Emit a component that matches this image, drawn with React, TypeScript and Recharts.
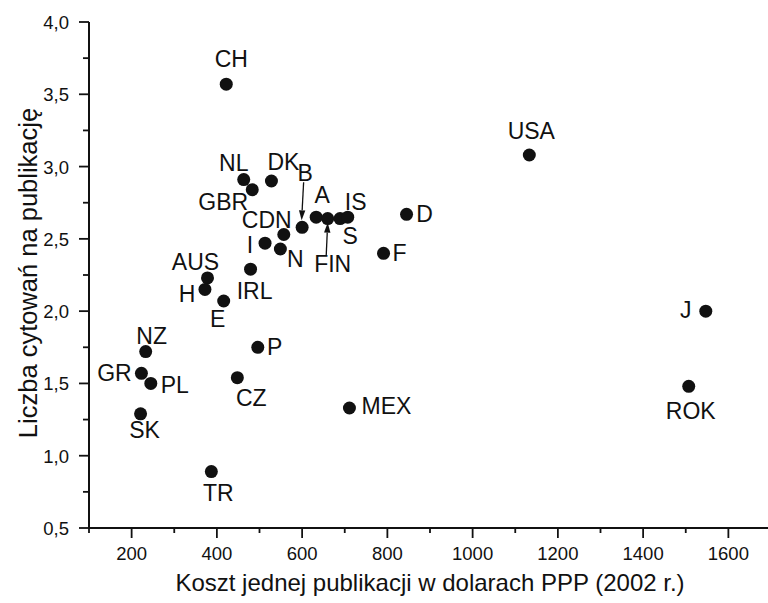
import { Scatter, ScatterChart, XAxis, YAxis } from "recharts";

const countries = [
  "CH", "NL", "GBR", "DK", "B", "CDN", "I", "N", "A", "FIN",
  "S", "IS", "D", "F", "AUS", "H", "E", "IRL", "NZ", "GR",
  "PL", "SK", "P", "CZ", "TR", "MEX", "USA", "J", "ROK",
];
const costPPP = [
  422, 463, 483, 528, 600, 557, 513, 549, 633, 660,
  689, 707, 845, 791, 378, 372, 416, 479, 233, 223,
  245, 221, 496, 448, 387, 711, 1133, 1547, 1507,
];
const citationsPerPaper = [
  3.57, 2.91, 2.84, 2.9, 2.58, 2.53, 2.47, 2.43, 2.65, 2.64,
  2.64, 2.65, 2.67, 2.4, 2.23, 2.15, 2.07, 2.29, 1.72, 1.57,
  1.5, 1.29, 1.75, 1.54, 0.89, 1.33, 3.08, 2.0, 1.48,
];

const xTicks = [100, 200, 300, 400, 500, 600, 700, 800, 900, 1000, 1100, 1200, 1300, 1400, 1500, 1600, 1700];
const xLabeled = [200, 400, 600, 800, 1000, 1200, 1400, 1600];
const yTicks = [0.5, 0.75, 1, 1.25, 1.5, 1.75, 2, 2.25, 2.5, 2.75, 3, 3.25, 3.5, 3.75, 4];
const yLabeled = [0.5, 1, 1.5, 2, 2.5, 3, 3.5, 4];

const xTitle = "Koszt jednej publikacji w dolarach PPP (2002 r.)";
const yTitle = "Liczba cytowań na publikację";

// where each country tag sits relative to its dot (px)
const tagOffset: Record<string, [number, number]> = {
  CH: [5, -25], NL: [-10, -17], GBR: [-29, 12], DK: [12, -19], B: [3, -54],
  CDN: [-17, -15], I: [-15, 2], N: [15, 10], A: [6, -22], FIN: [5, 45],
  S: [10, 17], IS: [8, -15], D: [18, 0], F: [16, 0], AUS: [-12, -16],
  H: [-18, 5], E: [-6, 18], IRL: [4, 22], NZ: [6, -16], GR: [-27, 0],
  PL: [24, 2], SK: [4, 16], P: [17, 0], CZ: [14, 20], TR: [7, 21],
  MEX: [37, -2], USA: [2, -24], J: [-20, -1], ROK: [2, 25],
};
const tagArrow: Record<string, [number, number, number, number]> = {
  B: [1.5, -45, -0.5, -7],
  FIN: [-1.5, 37, 0, 4],
};

const points = countries.map((name, i) => ({
  name,
  x: costPPP[i],
  y: citationsPerPaper[i],
}));

const INK = "#111";
const FONT = '"Liberation Sans", Arial, sans-serif';
const fmt = (v: number) => v.toFixed(1).replace(".", ",");

function BottomTick({ x, y, payload }: any) {
  const major = payload.value % 200 === 0;
  return (
    <g>
      <line x1={x} y1={y} x2={x} y2={y + (major ? 10 : 5)} stroke={INK} strokeWidth={1.8} />
      {xLabeled.includes(payload.value) && (
        <text x={x} y={y + 32} textAnchor="middle" fontSize={18.5} fontFamily={FONT} fill={INK}>
          {payload.value}
        </text>
      )}
    </g>
  );
}

function TopTick({ x, y, payload }: any) {
  const major = payload.value % 200 === 0;
  return <line x1={x} y1={y} x2={x} y2={y + (major ? 10 : 5)} stroke={INK} strokeWidth={1.8} />;
}

function LeftTick({ x, y, payload }: any) {
  const major = yLabeled.includes(payload.value);
  return (
    <g>
      <line x1={x} y1={y} x2={x - (major ? 10 : 6)} y2={y} stroke={INK} strokeWidth={1.8} />
      {major && (
        <text x={x - 20} y={y + 7} textAnchor="end" fontSize={18.5} fontFamily={FONT} fill={INK}>
          {fmt(payload.value)}
        </text>
      )}
    </g>
  );
}

function RightTick({ x, y, payload }: any) {
  const major = yLabeled.includes(payload.value);
  return <line x1={x} y1={y} x2={x - (major ? 10 : 5)} y2={y} stroke={INK} strokeWidth={1.8} />;
}

function Dot({ cx, cy }: any) {
  return <circle cx={cx} cy={cy} r={6.5} fill={INK} />;
}

function Tag({ cx, cy, payload }: any) {
  const [dx, dy] = tagOffset[payload.name] ?? [0, -20];
  const arrow = tagArrow[payload.name];
  let head = null;
  if (arrow) {
    const x1 = cx + arrow[0], y1 = cy + arrow[1], x2 = cx + arrow[2], y2 = cy + arrow[3];
    const len = Math.hypot(x2 - x1, y2 - y1);
    const ux = (x2 - x1) / len, uy = (y2 - y1) / len;
    const bx = x2 - ux * 10, by = y2 - uy * 10;
    head = (
      <g>
        <line x1={x1} y1={y1} x2={bx} y2={by} stroke={INK} strokeWidth={1.3} />
        <polygon
          points={`${x2},${y2} ${bx - uy * 3.2},${by + ux * 3.2} ${bx + uy * 3.2},${by - ux * 3.2}`}
          fill={INK}
        />
      </g>
    );
  }
  return (
    <g>
      {head}
      <text
        x={cx + dx}
        y={cy + dy}
        textAnchor="middle"
        dominantBaseline="central"
        fontSize={23}
        fontFamily={FONT}
        fill={INK}
      >
        {payload.name}
      </text>
    </g>
  );
}

const Empty = () => <g />;

export default function App() {
  return (
    <div
      style={{
        position: "absolute",
        left: 0,
        top: 0,
        width: 768,
        height: 603,
        overflow: "hidden",
        background: "#fff",
      }}
    >
      <ScatterChart width={780} height={603} margin={{ top: 22, right: 9, bottom: 0, left: 0 }}>
        <XAxis
          xAxisId="b"
          type="number"
          dataKey="x"
          domain={[100, 1700]}
          ticks={xTicks}
          interval={0}
          height={75}
          tickSize={0}
          tickMargin={0}
          tickLine={false}
          tick={(p: any) => <BottomTick {...p} />}
          axisLine={{ stroke: INK, strokeWidth: 2 }}
          allowDataOverflow
          label={{
            content: ({ viewBox }: any) => (
              <text
                x={viewBox.x + viewBox.width / 2}
                y={viewBox.y + 63}
                textAnchor="middle"
                fontSize={24}
                fontFamily={FONT}
                fill={INK}
              >
                {xTitle}
              </text>
            ),
          }}
        />
        <XAxis
          xAxisId="t"
          orientation="top"
          type="number"
          dataKey="x"
          domain={[100, 1700]}
          ticks={xTicks}
          interval={0}
          height={0}
          tickSize={0}
          tickMargin={0}
          tickLine={false}
          tick={(p: any) => <TopTick {...p} />}
          axisLine={{ stroke: INK, strokeWidth: 2 }}
          allowDataOverflow
        />
        <YAxis
          yAxisId="l"
          type="number"
          dataKey="y"
          domain={[0.5, 4]}
          ticks={yTicks}
          interval={0}
          width={89}
          tickSize={0}
          tickMargin={0}
          tickLine={false}
          tick={(p: any) => <LeftTick {...p} />}
          axisLine={{ stroke: INK, strokeWidth: 2 }}
          allowDataOverflow
          label={{
            content: ({ viewBox }: any) => (
              <text
                transform={`translate(37, ${viewBox.y + 251}) rotate(-90)`}
                textAnchor="middle"
                fontSize={25.5}
                fontFamily={FONT}
                fill={INK}
              >
                {yTitle}
              </text>
            ),
          }}
        />
        <YAxis
          yAxisId="r"
          orientation="right"
          type="number"
          dataKey="y"
          domain={[0.5, 4]}
          ticks={yTicks}
          interval={0}
          width={0}
          tickSize={0}
          tickMargin={0}
          tickLine={false}
          tick={(p: any) => <RightTick {...p} />}
          axisLine={{ stroke: INK, strokeWidth: 2 }}
          allowDataOverflow
        />
        <Scatter data={points} xAxisId="t" yAxisId="r" shape={Empty} isAnimationActive={false} />
        <Scatter data={points} xAxisId="b" yAxisId="l" shape={Dot} isAnimationActive={false} />
        <Scatter data={points} xAxisId="b" yAxisId="l" shape={Tag} isAnimationActive={false} />
      </ScatterChart>
    </div>
  );
}
